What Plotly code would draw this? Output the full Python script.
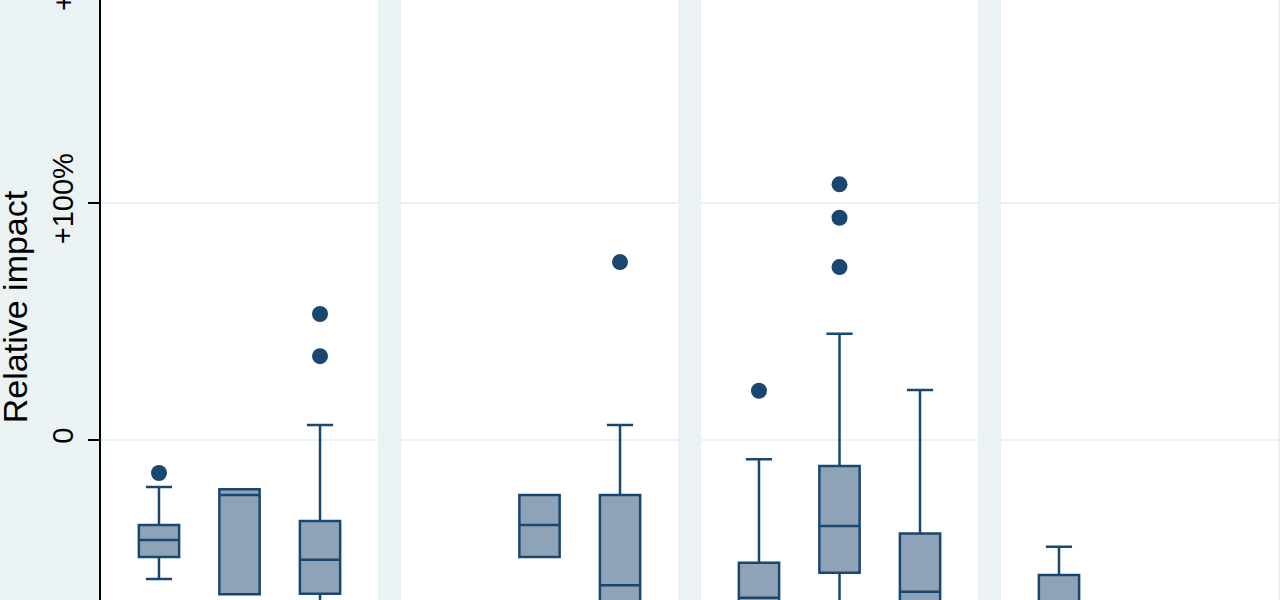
import plotly.graph_objects as go
from plotly.subplots import make_subplots

NAVY = "#1A476F"
BOX_FILL = "#8FA3B8"
BG = "#EAF2F3"

# y values in percent; four panels, three slots each
p1_x = [1, 2, 3]
p1_q1 = [-49.4, -65.1, -64.9]
p1_med = [-42.2, -23.2, -50.5]
p1_q3 = [-35.9, -20.8, -34.2]
p1_lo = [-58.6, -65.1, -85.0]
p1_hi = [-19.8, -20.8, 6.3]
p1_out_x = [1, 3, 3]
p1_out_y = [-13.9, 53.2, 35.4]

p2_x = [2, 3]
p2_q1 = [-49.4, -80.0]
p2_med = [-35.9, -61.3]
p2_q3 = [-23.2, -23.2]
p2_lo = [-49.4, -95.0]
p2_hi = [-23.2, 6.3]
p2_out_x = [3]
p2_out_y = [75.1]

p3_x = [1, 2, 3]
p3_q1 = [-80.0, -56.0, -80.0]
p3_med = [-66.6, -36.3, -64.0]
p3_q3 = [-51.8, -11.0, -39.4]
p3_lo = [-95.0, -75.0, -95.0]
p3_hi = [-8.1, 44.9, 21.1]
p3_out_x = [1, 2, 2, 2]
p3_out_y = [20.8, 107.9, 93.8, 73.0]

p4_x = [1]
p4_q1 = [-85.0]
p4_med = [-70.0]
p4_q3 = [-57.0]
p4_lo = [-100.0]
p4_hi = [-45.0]
p4_out_x = []
p4_out_y = []

tick_vals = [0, 100, 200]
tick_text = ["0", "+100%", "+200%"]
y_range = [-67.5, 185.7]

panels = [
    (p1_x, p1_q1, p1_med, p1_q3, p1_lo, p1_hi, p1_out_x, p1_out_y),
    (p2_x, p2_q1, p2_med, p2_q3, p2_lo, p2_hi, p2_out_x, p2_out_y),
    (p3_x, p3_q1, p3_med, p3_q3, p3_lo, p3_hi, p3_out_x, p3_out_y),
    (p4_x, p4_q1, p4_med, p4_q3, p4_lo, p4_hi, p4_out_x, p4_out_y),
]

fig = make_subplots(rows=1, cols=4, shared_yaxes=True, horizontal_spacing=23 / 1177)

for i, (x, q1, med, q3, lo, hi, ox, oy) in enumerate(panels, start=1):
    fig.add_trace(go.Box(
        x=x, q1=q1, median=med, q3=q3, lowerfence=lo, upperfence=hi,
        width=0.5, whiskerwidth=0.65, boxpoints=False,
        fillcolor=BOX_FILL, line=dict(color=NAVY, width=2.5),
        showlegend=False, hoverinfo="skip",
    ), row=1, col=i)
    if ox:
        fig.add_trace(go.Scatter(
            x=ox, y=oy, mode="markers",
            marker=dict(color=NAVY, size=16),
            showlegend=False, hoverinfo="skip",
        ), row=1, col=i)
    fig.update_xaxes(range=[0.28, 3.72], showgrid=False, zeroline=False,
                     showticklabels=False, ticks="", automargin=False, row=1, col=i)
    fig.update_yaxes(range=y_range, tickvals=tick_vals, ticktext=tick_text,
                     showgrid=True, gridcolor=BG, gridwidth=1.5, zeroline=False,
                     automargin=False, row=1, col=i)

fig.update_yaxes(showline=True, linecolor="black", linewidth=1.5,
                 ticks="outside", ticklen=11, tickcolor="black", tickwidth=1.5,
                 tickangle=-90, ticklabelstandoff=4,
                 tickfont=dict(size=29, color="black"),
                 row=1, col=1)

# axis title placed by hand, like the reference
fig.add_annotation(
    xref="paper", yref="paper", x=-86 / 1177, y=0.488,
    text="Relative impact", textangle=-90, showarrow=False,
    font=dict(size=34, color="black"), xanchor="center", yanchor="middle",
)

# the +200% label sits just above the visible area
fig.add_annotation(
    xref="paper", yref="paper",
    x=-37 / 1177, y=(200 - y_range[0]) / (y_range[1] - y_range[0]),
    text="+200%", textangle=-90, showarrow=False,
    font=dict(size=29, color="black"), xanchor="center", yanchor="middle",
)

fig.update_layout(
    width=1280, height=600,
    margin=dict(l=101, r=2, t=0, b=0, pad=0),
    paper_bgcolor=BG, plot_bgcolor="white",
    font=dict(family="Liberation Sans, Arial, sans-serif", color="black"),
)

fig.write_html("out.html", config={"displayModeBar": False},
               post_script="document.body.style.margin='0';")
